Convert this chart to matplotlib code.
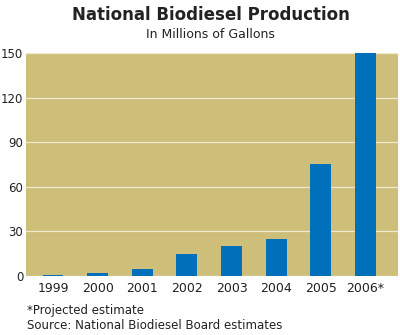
import numpy as np
import matplotlib.pyplot as plt

# Datos
years = ['1999', '2000', '2001', '2002', '2003', '2004', '2005', '2006*']
production = [0.5, 2, 5, 15, 20, 25, 75, 150]
y_ticks = [0, 30, 60, 90, 120, 150]

bg_color = '#CDBE7A'
bar_color = '#0070BA'
text_color = '#222222'

fig = plt.figure(figsize=(4.0, 3.35), dpi=100)
ax = fig.add_axes([0.065, 0.176, 0.93, 0.666])
ax.set_facecolor(bg_color)

x = np.arange(len(years))
ax.bar(x, production, width=0.47, color=bar_color, zorder=3)

ax.set_xlim(-0.605, 7.73)
ax.set_ylim(0, 150)
ax.set_yticks(y_ticks)
ax.set_xticks(x)
ax.set_xticklabels(years)
ax.yaxis.grid(True, color='#EFE9D0', linewidth=0.9, zorder=1)
ax.tick_params(axis='x', length=0, labelsize=9, colors=text_color, pad=4)
ax.tick_params(axis='y', length=0, labelsize=8.5, colors=text_color, pad=2)
for s in ax.spines.values():
    s.set_visible(False)

fig.text(0.527, 0.955, 'National Biodiesel Production', ha='center', va='center',
         fontsize=12, fontweight='bold', color=text_color)
fig.text(0.527, 0.898, 'In Millions of Gallons', ha='center', va='center',
         fontsize=9, color=text_color)
fig.text(0.067, 0.072, '*Projected estimate', ha='left', va='center',
         fontsize=8.5, color=text_color)
fig.text(0.067, 0.027, 'Source: National Biodiesel Board estimates', ha='left', va='center',
         fontsize=8.5, color=text_color)

fig.savefig('out.png', dpi=100)
